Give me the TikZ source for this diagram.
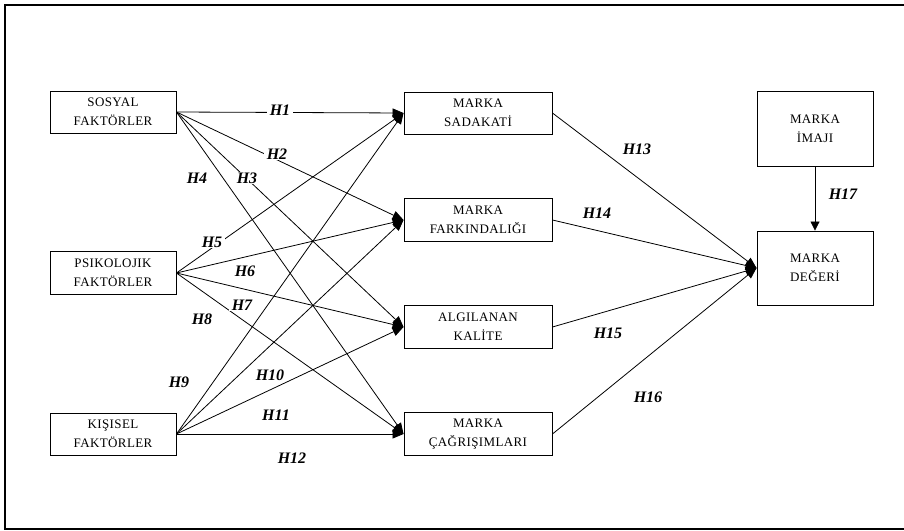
\documentclass[tikz,border=0pt]{standalone}
\usepackage{fontspec}
\setmainfont{Liberation Serif}
\newfontfamily\boxfont[LetterSpace=3]{Liberation Serif}
\usetikzlibrary{arrows.meta}
\begin{document}
\begin{tikzpicture}[x=1pt,y=-1pt,
  box/.style={draw,line width=0.9pt,align=center,inner sep=0pt,
    font=\boxfont\fontsize{13}{19}\selectfont},
  hyp/.style={font=\fontsize{16}{18}\selectfont\bfseries\itshape,fill=white,inner xsep=3pt,inner ysep=1pt},
  conn/.style={line width=0.8pt,-{Triangle[length=11pt,width=9pt]}},
  conns/.style={line width=0.8pt,-{Triangle[length=9pt,width=9pt]}}]
\useasboundingbox (0,0) rectangle (904,530);
\draw[line width=1.5pt] (910,5) -- (5,5) -- (5,529) -- (910,529);
% nodes
\node[box,minimum width=126pt,minimum height=42pt] (s) at (113,112) {SOSYAL\\FAKTÖRLER};
\node[box,minimum width=126pt,minimum height=43pt] (p) at (113,273) {PSIKOLOJIK\\FAKTÖRLER};
\node[box,minimum width=126pt,minimum height=42pt] (k) at (113,434) {KIŞISEL\\FAKTÖRLER};
\node[box,minimum width=148pt,minimum height=42pt] (ms) at (478,113) {MARKA\\SADAKATİ};
\node[box,minimum width=148pt,minimum height=43pt] (mf) at (478,220) {MARKA\\FARKINDALIĞI};
\node[box,minimum width=148pt,minimum height=43pt] (ak) at (478,327) {ALGILANAN\\KALİTE};
\node[box,minimum width=148pt,minimum height=43pt] (mc) at (478,434) {MARKA\\ÇAĞRIŞIMLARI};
\node[box,minimum width=116pt,minimum height=75pt] (mi) at (815,129) {MARKA\\İMAJI};
\node[box,minimum width=116pt,minimum height=74pt] (md) at (815,268) {MARKA\\DEĞERİ};
% connectors
\foreach \a in {s,p,k}{
  \foreach \b in {ms,mf,ak,mc}{
    \draw[conn] (\a.east) -- (\b.west);
  }
}
\foreach \a in {ms,mf,ak,mc}{
  \draw[conn] (\a.east) -- (md.west);
}
\draw[conns] (mi.south) -- (md.north);
% labels
\node[hyp] (h1) at (280,110) {H1};
\node[hyp] (h2) at (277,154) {H2};
\node[hyp] (h3) at (247,178) {H3};
\node[hyp] (h4) at (197,178) {H4};
\node[hyp] (h5) at (212,242) {H5};
\node[hyp] (h6) at (245,271) {H6};
\node[hyp] (h7) at (242,305) {H7};
\node[hyp] (h8) at (202,319) {H8};
\node[hyp] (h9) at (179,382) {H9};
\node[hyp] (h10) at (270,375) {H10};
\node[hyp] (h11) at (276,415) {H11};
\node[hyp] (h12) at (292,458) {H12};
\node[hyp] (h13) at (637,149) {H13};
\node[hyp] (h14) at (597,213) {H14};
\node[hyp] (h15) at (608,333) {H15};
\node[hyp] (h16) at (648,397) {H16};
\node[hyp] (h17) at (843,194) {H17};
\end{tikzpicture}
\end{document}
